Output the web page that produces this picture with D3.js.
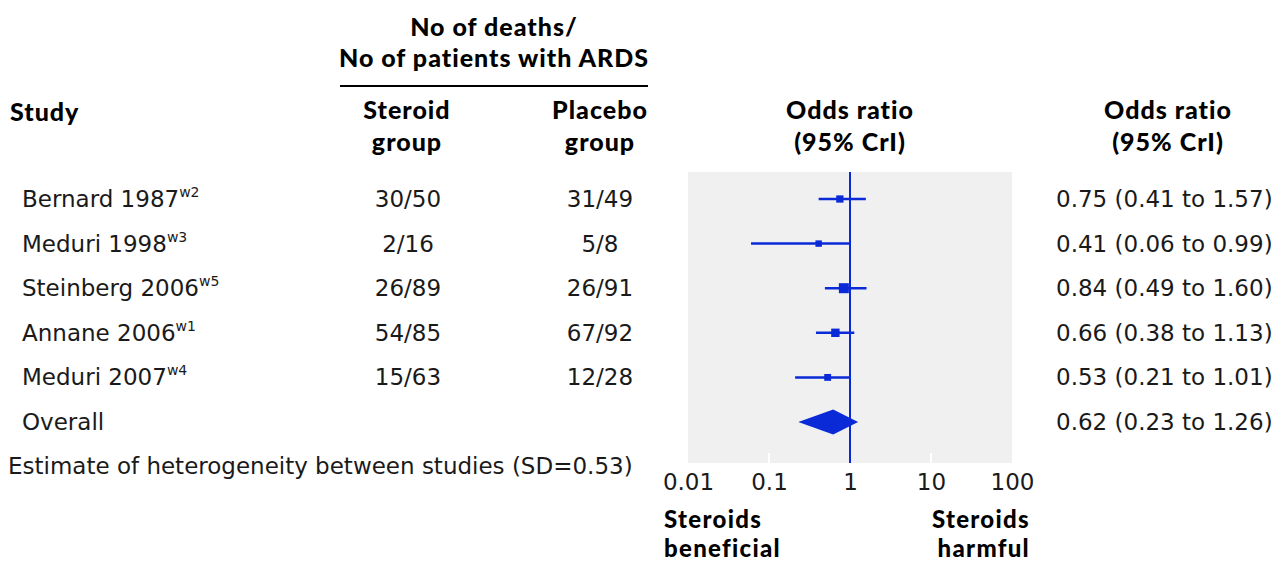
<!DOCTYPE html>
<html><head><meta charset="utf-8">
<script src="https://cdn.jsdelivr.net/npm/d3@7"></script>
<style>
body{margin:0;background:#fff;}
svg text{font-family:"DejaVu Sans",sans-serif;fill:#1a1a1a;}
.hd{font-family:Lato,"Noto Sans",sans-serif;font-weight:900;font-size:25px;fill:#000;letter-spacing:1px;}
.bt{font-size:24px;letter-spacing:1.3px;}
</style></head>
<body>
<svg id="c" width="1284" height="565"></svg>
<script>
const studies = ["Bernard 1987","Meduri 1998","Steinberg 2006","Annane 2006","Meduri 2007"];
const refs = ["w2","w3","w5","w1","w4"];
const steroid = ["30/50","2/16","26/89","54/85","15/63"];
const placebo = ["31/49","5/8","26/91","67/92","12/28"];
const orVals = [0.75,0.41,0.84,0.66,0.53];
const orLow = [0.41,0.06,0.49,0.38,0.21];
const orHigh = [1.57,0.99,1.60,1.13,1.01];
const weights = [18,14,34,24,16];
const overall = {or:0.62, low:0.23, high:1.26};
const ticks = [0.01,0.1,1,10,100];
const tickLabels = ["0.01","0.1","1","10","100"];

const svg = d3.select("#c");
const blue = "#0a2ad8";
const FS = 23;
const x = d3.scaleLog().domain([0.01,100]).range([688,1012]);
const rows = studies.concat(["Overall"]);
const y = d3.scalePoint().domain(d3.range(rows.length)).range([199,422]);
const sq = d3.scaleSqrt().domain([0,34]).range([0,10]);

// panel background
svg.append("rect").attr("x",x(0.01)).attr("y",172).attr("width",x(100)-x(0.01)).attr("height",463-172).attr("fill","#f0f0f0");
svg.selectAll(".wt").data([0.1,10]).join("line")
  .attr("x1",d=>x(d)).attr("x2",d=>x(d)).attr("y1",453).attr("y2",463)
  .attr("stroke","#fff").attr("stroke-width",2);

// axis
const axis = d3.axisBottom(x).tickValues(ticks).tickFormat((d,i)=>tickLabels[i]).tickSize(0).tickPadding(0);
const ag = svg.append("g").attr("transform","translate(0,474)").call(axis);
ag.select(".domain").remove();
ag.selectAll("text").attr("font-size",FS).attr("font-family","'DejaVu Sans',sans-serif").attr("fill","#1a1a1a").attr("dy","0.71em");

// reference line
svg.append("line").attr("x1",x(1)).attr("x2",x(1)).attr("y1",172).attr("y2",463).attr("stroke",blue).attr("stroke-width",2);

// CIs
svg.selectAll(".ci").data(studies).join("line")
  .attr("x1",(d,i)=>x(orLow[i])).attr("x2",(d,i)=>x(orHigh[i]))
  .attr("y1",(d,i)=>y(i)).attr("y2",(d,i)=>y(i))
  .attr("stroke",blue).attr("stroke-width",2.5);
svg.selectAll(".sq").data(studies).join("rect")
  .attr("x",(d,i)=>x(orVals[i])-sq(weights[i])/2)
  .attr("y",(d,i)=>y(i)-sq(weights[i])/2)
  .attr("width",(d,i)=>sq(weights[i])).attr("height",(d,i)=>sq(weights[i]))
  .attr("fill",blue);
const oy = y(5);
svg.append("path").attr("d",`M${x(overall.low)},${oy}L${x(overall.or)},${oy-12.5}L${x(overall.high)},${oy}L${x(overall.or)},${oy+12.5}Z`).attr("fill",blue);

// headers
svg.append("text").attr("class","hd").attr("x",10).attr("y",121).text("Study");
svg.append("text").attr("class","hd").attr("x",494).attr("y",36).attr("text-anchor","middle").text("No of deaths/");
svg.append("text").attr("class","hd").attr("x",494).attr("y",67).attr("text-anchor","middle").text("No of patients with ARDS");
svg.append("line").attr("x1",340).attr("x2",648).attr("y1",86).attr("y2",86).attr("stroke","#000").attr("stroke-width",2);
[[407,"Steroid","group"],[600,"Placebo","group"],[850,"Odds ratio","(95% CrI)"],[1168,"Odds ratio","(95% CrI)"]].forEach(h=>{
  svg.append("text").attr("class","hd").attr("x",h[0]).attr("y",119).attr("text-anchor","middle").text(h[1]);
  svg.append("text").attr("class","hd").attr("x",h[0]).attr("y",151).attr("text-anchor","middle").text(h[2]);
});

// study labels
const lab = svg.selectAll(".lab").data(rows).join("text")
  .attr("x",22).attr("y",(d,i)=>y(i)+8).attr("font-size",FS);
lab.append("tspan").text(d=>d);
lab.filter((d,i)=>i<refs.length).append("tspan").attr("font-size",14).attr("dy",-10).text((d,i)=>refs[i]);

svg.selectAll(".st").data(steroid).join("text").attr("x",408).attr("y",(d,i)=>y(i)+8)
  .attr("font-size",FS).attr("text-anchor","middle").text(d=>d);
svg.selectAll(".pl").data(placebo).join("text").attr("x",600).attr("y",(d,i)=>y(i)+8)
  .attr("font-size",FS).attr("text-anchor","middle").text(d=>d);

const f = d3.format(".2f");
const orText = studies.map((d,i)=>`${f(orVals[i])} (${f(orLow[i])} to ${f(orHigh[i])})`)
  .concat([`${f(overall.or)} (${f(overall.low)} to ${f(overall.high)})`]);
svg.selectAll(".ot").data(orText).join("text").attr("x",1056).attr("y",(d,i)=>y(i)+8)
  .attr("font-size",FS).text(d=>d);

svg.append("text").attr("x",8).attr("y",474).attr("font-size",FS).text("Estimate of heterogeneity between studies (SD=0.53)");

// bottom labels
svg.append("text").attr("class","hd bt").attr("x",664).attr("y",528).text("Steroids");
svg.append("text").attr("class","hd bt").attr("x",664).attr("y",557).text("beneficial");
svg.append("text").attr("class","hd bt").attr("x",1030).attr("y",528).attr("text-anchor","end").text("Steroids");
svg.append("text").attr("class","hd bt").attr("x",1030).attr("y",557).attr("text-anchor","end").text("harmful");
</script>
</body></html>
